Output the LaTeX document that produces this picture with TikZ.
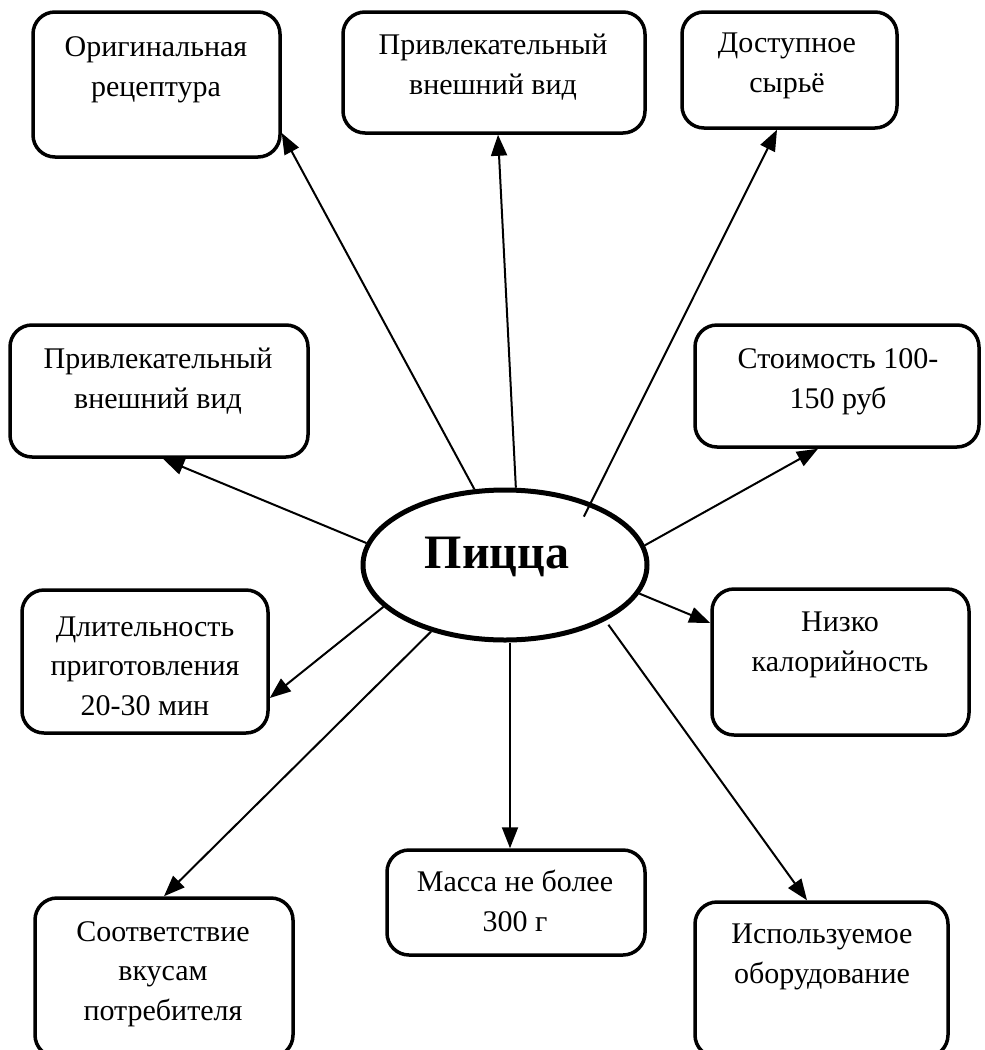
\documentclass[tikz,border=0pt]{standalone}
\usepackage{fontspec}
\setmainfont{Liberation Serif}
\usetikzlibrary{arrows.meta,shapes.geometric}
\tikzset{
  box/.style={draw=black, line width=3.5pt, rounded corners=22pt, inner sep=0pt},
  lbl/.style={align=center, font=\fontsize{30}{39.5}\selectfont, inner sep=0pt},
  conn/.style={line width=2pt, -{Triangle[length=21pt,width=16pt]}},
}
\begin{document}
\begin{tikzpicture}[x=1pt,y=-1pt]
\useasboundingbox (0,0) rectangle (985,1050);
% central ellipse
\node[draw, ellipse, line width=5pt, minimum width=284pt, minimum height=150pt, inner sep=0pt] (pz) at (505,565) {};
\node[font=\bfseries\fontsize{48}{52}\selectfont, inner sep=0pt] (pzt) at (497,557) {Пицца};
% boxes
\node[box, minimum width=247pt, minimum height=145pt] (b1) at (156.5,84.5) {};
\node[lbl] (t1) at (156,70) {Оригинальная\\рецептура};
\node[box, minimum width=302pt, minimum height=121pt] (b2) at (494,72.5) {};
\node[lbl] (t2) at (493,67) {Привлекательный\\внешний вид};
\node[box, minimum width=215pt, minimum height=116pt] (b3) at (789.5,70) {};
\node[lbl] (t3) at (787,66) {Доступное\\сырьё};
\node[box, minimum width=298pt, minimum height=132pt] (b4) at (159,391) {};
\node[lbl] (t4) at (158,381) {Привлекательный\\внешний вид};
\node[box, minimum width=284pt, minimum height=122pt] (b5) at (837,386) {};
\node[lbl] (t5) at (838,382) {Стоимость 100-\\150 руб};
\node[box, minimum width=246pt, minimum height=143pt] (b6) at (145,661.5) {};
\node[lbl] (t6) at (145,666) {Длительность\\приготовления\\20-30 мин};
\node[box, minimum width=257pt, minimum height=146pt] (b7) at (840.5,662) {};
\node[lbl] (t7) at (840,645) {Низко\\калорийность};
\node[box, minimum width=258pt, minimum height=105pt] (b8) at (516,902.5) {};
\node[lbl] (t8) at (515,901) {Масса не более\\300 г};
\node[box, minimum width=258pt, minimum height=159pt] (b9) at (164,977.5) {};
\node[lbl] (t9) at (163,974) {Соответствие\\вкусам\\потребителя};
\node[box, minimum width=253pt, minimum height=155pt] (b10) at (821.5,979.5) {};
\node[lbl] (t10) at (822,957) {Используемое\\оборудование};
% connectors
\draw[conn] (pz.112.3) -- ([yshift=-48.5pt]b1.east);
\draw[conn] (pz.82.4) -- ([xshift=4pt]b2.south);
\draw[conn, shorten <=-15.6pt] (pz.36.6) -- ([xshift=-12.5pt]b3.south);
\draw[conn] (pz.171.8) -- ([xshift=4pt]b4.south);
\draw[conn] (pz.8.2) -- ([xshift=-19pt]b5.south);
\draw[conn] (pz.199.4) -- ([yshift=-36.5pt]b6.east);
\draw[conn] (pz.348.3) -- ([yshift=39pt]b7.west);
\draw[conn] ([xshift=-6pt]b8.north |- pz.south) -- ([xshift=-6pt]b8.north);
\draw[conn] (pz.222.7) -- (b9.north);
\draw[conn, shorten <=5pt] (pz.331.5) -- ([xshift=-14.5pt]b10.north);
\end{tikzpicture}
\end{document}
